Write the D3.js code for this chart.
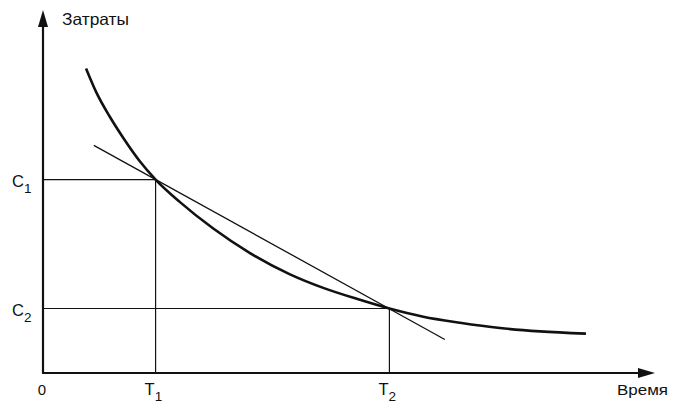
<!DOCTYPE html>
<html><head><meta charset="utf-8">
<script src="https://cdn.jsdelivr.net/npm/d3@7"></script>
<style>
html,body{margin:0;padding:0;background:#fff;}
svg{display:block;font-family:"Liberation Sans",Arial,sans-serif;}
</style></head>
<body>
<svg id="c" width="681" height="405"></svg>
<script>
// ---- data ----
const axisLabels = {x: "Время", y: "Затраты", origin: "0"};
const xMax = 10.6, yMax = 5.63;
const tTicks = [{base: "T", sub: "1", value: 1.95}, {base: "T", sub: "2", value: 6.0}];
const cTicks = [{base: "C", sub: "1", value: 3.0}, {base: "C", sub: "2", value: 1.0}];
const curveT = [0.745, 0.93, 1.16, 1.391, 1.68, 1.95, 2.373, 2.949, 3.585, 4.278, 4.854, 5.433, 6.0, 6.586, 7.222, 7.915, 8.608, 9.404];
const curveC = [4.724, 4.34, 3.97, 3.645, 3.28, 3.0, 2.65, 2.24, 1.86, 1.53, 1.32, 1.15, 1.0, 0.873, 0.78, 0.698, 0.645, 0.61];
const secantT = [0.88, 6.96];
const secantC = [3.53, 0.52];

// ---- scales ----
const x = d3.scaleLinear().domain([0, xMax]).range([43, 655]);
const y = d3.scaleLinear().domain([0, yMax]).range([373, 10]);

const svg = d3.select("#c");
const ink = "#111";

// guide lines
tTicks.forEach((t, i) => {
  const c = cTicks[i];
  svg.append("line").attr("x1", x(0)).attr("x2", x(t.value)).attr("y1", y(c.value)).attr("y2", y(c.value))
    .attr("stroke", ink).attr("stroke-width", 1.2);
  svg.append("line").attr("x1", x(t.value)).attr("x2", x(t.value)).attr("y1", y(c.value)).attr("y2", y(0))
    .attr("stroke", ink).attr("stroke-width", 1.2);
});

// secant line
svg.append("line")
  .attr("x1", x(secantT[0])).attr("y1", y(secantC[0]))
  .attr("x2", x(secantT[1])).attr("y2", y(secantC[1]))
  .attr("stroke", ink).attr("stroke-width", 1.3);

// curve
const pts = curveT.map((t, i) => [t, curveC[i]]);
svg.append("path").datum(pts)
  .attr("d", d3.line().x(d => x(d[0])).y(d => y(d[1])).curve(d3.curveMonotoneX))
  .attr("fill", "none").attr("stroke", ink).attr("stroke-width", 2.6);

// axes with arrows
svg.append("line").attr("x1", x(0)).attr("y1", y(0)).attr("x2", x(0)).attr("y2", y(yMax) + 12)
  .attr("stroke", ink).attr("stroke-width", 2.2);
svg.append("path")
  .attr("d", `M${x(0)},${y(yMax)} L${x(0) - 5},${y(yMax) + 17} L${x(0) + 5},${y(yMax) + 17} Z`)
  .attr("fill", ink);
svg.append("line").attr("x1", x(0) - 1).attr("y1", y(0)).attr("x2", x(xMax) - 12).attr("y2", y(0))
  .attr("stroke", ink).attr("stroke-width", 2.2);
svg.append("path")
  .attr("d", `M${x(xMax)},${y(0)} L${x(xMax) - 17},${y(0) - 5} L${x(xMax) - 17},${y(0) + 5} Z`)
  .attr("fill", ink);

// labels
svg.append("text").attr("x", 62).attr("y", 25).attr("font-size", 16.5).attr("fill", ink)
  .attr("textLength", 67).attr("lengthAdjust", "spacingAndGlyphs").text(axisLabels.y);
svg.append("text").attr("x", 617).attr("y", 395).attr("font-size", 15.5).attr("fill", ink)
  .attr("textLength", 51).attr("lengthAdjust", "spacingAndGlyphs").text(axisLabels.x);
svg.append("text").attr("x", x(0) - 1).attr("y", 395).attr("text-anchor", "middle")
  .attr("font-size", 15).attr("fill", ink).text(axisLabels.origin);

tTicks.forEach(t => {
  const tx = svg.append("text").attr("x", x(t.value) - 11).attr("y", 395)
    .attr("font-size", 16.5).attr("fill", ink);
  tx.append("tspan").text(t.base);
  tx.append("tspan").attr("dy", 6).attr("font-size", 13.5).text(t.sub);
});
cTicks.forEach(c => {
  const tx = svg.append("text").attr("x", 12).attr("y", y(c.value) + 7)
    .attr("font-size", 16.5).attr("fill", ink);
  tx.append("tspan").text(c.base);
  tx.append("tspan").attr("dy", 6).attr("font-size", 13.5).text(c.sub);
});
</script>
</body></html>
